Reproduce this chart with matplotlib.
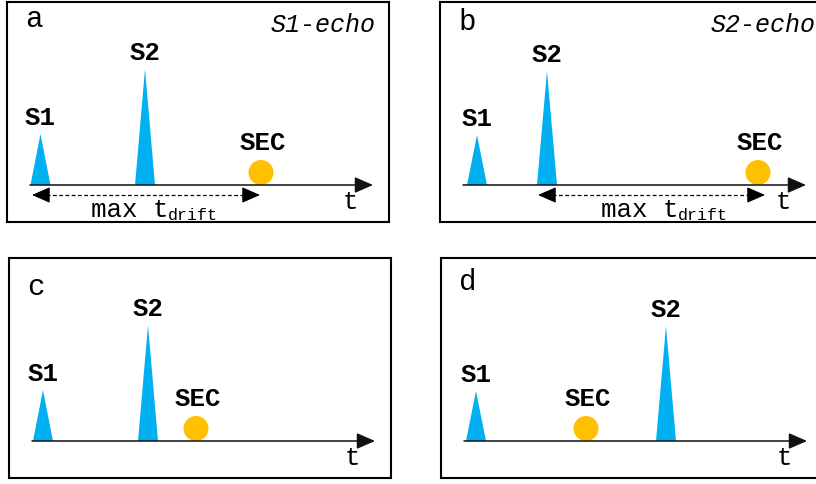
import matplotlib
matplotlib.use('Agg')
import matplotlib.pyplot as plt
from matplotlib.patches import Polygon, Circle

plt.rcParams['font.family'] = ['Liberation Mono', 'DejaVu Sans Mono']

# panel boxes in figure pixels (left, top)
W, H = 816, 485
box_left = [7, 440, 9, 441]
box_top = [3, 3, 259, 259]
box_w, box_h = 382, 220
ax_off_x, ax_off_y = 23, 183   # time axis origin inside box

panel_labels = ['a', 'b', 'c', 'd']
panel_label_y = [167, 164, 155, 160]
echo_labels = ['S1-echo', 'S2-echo', '', '']

# time positions of the signals (panel px units from axis start)
s1_t = [10.5, 14, 11, 12]
s2_t = [115, 84, 116, 202]
sec_t = [231, 295, 164, 122]
s1_h = [51, 50, 51, 50]
s2_h = [116, 114, 116, 115]
axis_len = 343

# max t_drift window (only a, b)
drift_from = [2, 75, None, None]
drift_to = [230, 302, None, None]
drift_text_x = [61, 138, None, None]

peak_w = 10
sec_r = 12.5
blue = '#00B0F0'
gold = '#FFC000'
fs = 18.5

fig = plt.figure(figsize=(W / 100, H / 100), dpi=100)

for i in range(4):
    ax = fig.add_axes([box_left[i] / W, 1 - (box_top[i] + box_h) / H, box_w / W, box_h / H])
    ax.set_xlim(-ax_off_x, box_w - ax_off_x)
    ax.set_ylim(-(box_h - ax_off_y), ax_off_y)
    ax.set_xticks([])
    ax.set_yticks([])
    for s in ax.spines.values():
        s.set_linewidth(1.5)

    # time axis
    ax.annotate('', xy=(axis_len, 0), xytext=(0, 0),
                arrowprops=dict(arrowstyle='-|>,head_length=0.8,head_width=0.35',
                                color='#111111', lw=1.1, mutation_scale=14,
                                shrinkA=0, shrinkB=0))
    ax.text(axis_len - 23, -16, 't', fontsize=fs, ha='center', va='center')

    # peaks
    for t, h, lab in [(s1_t[i], s1_h[i], 'S1'), (s2_t[i], s2_h[i], 'S2')]:
        ax.add_patch(Polygon([[t - peak_w, 0], [t, h], [t + peak_w, 0]],
                             closed=True, facecolor=blue, edgecolor='none'))
        ax.text(t, h + 5, lab, fontsize=fs, fontweight='bold', ha='center', va='bottom')

    ax.add_patch(Circle((sec_t[i], sec_r), sec_r, facecolor=gold, edgecolor='none'))
    ax.text(sec_t[i] + 2, 2 * sec_r + 6, 'SEC', fontsize=fs, fontweight='bold',
            ha='center', va='bottom')

    ax.text(-5, panel_label_y[i], panel_labels[i], fontsize=21, ha='left', va='center')
    if echo_labels[i]:
        ax.text(346 if i == 0 else 353, 161, echo_labels[i], fontsize=18,
                style='italic', ha='right', va='center')

    if drift_from[i] is not None:
        y = -10
        ax.plot([drift_from[i] + 8, drift_to[i] - 8], [y, y], color='black',
                lw=0.9, ls=(0, (3, 2)))
        for a, b in [(drift_from[i] + 8, drift_from[i]), (drift_to[i] - 8, drift_to[i])]:
            ax.annotate('', xy=(b, y), xytext=(a, y),
                        arrowprops=dict(arrowstyle='-|>,head_length=0.8,head_width=0.35',
                                        color='black', lw=0.9, mutation_scale=14,
                                        shrinkA=0, shrinkB=0))
        tx = drift_text_x[i]
        ax.text(tx, -31, 'max t', fontsize=fs, ha='left', va='baseline')
        ax.text(tx + 77, -34, 'drift', fontsize=12, ha='left', va='baseline')

fig.savefig('out.png', dpi=100)
